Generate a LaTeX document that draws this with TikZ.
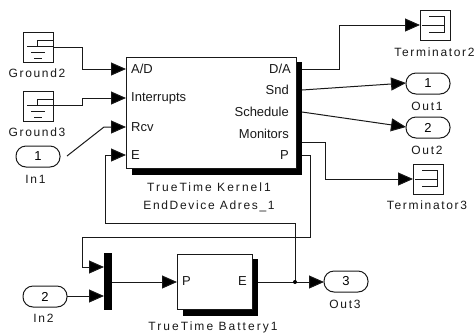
\documentclass[tikz,border=0pt]{standalone}
\usepackage{fontspec}
\setmainfont{Liberation Sans}
\usetikzlibrary{arrows.meta}
\newcommand{\lbl}{\fontsize{12}{14}\selectfont\addfontfeature{LetterSpace=14}}
\newcommand{\lblw}{\fontsize{12}{14}\selectfont\addfontfeature{LetterSpace=17}}
\newcommand{\prt}{\fontsize{13}{14}\selectfont}
\tikzset{
  wire/.style={line width=1pt,black!90},
  arw/.style={wire,-{Triangle[length=15pt,width=13pt,fill=black]}},
  blockbox/.style={draw=black!90,line width=1pt,fill=white,inner sep=0pt,outer sep=0pt,anchor=north west},
  pill/.style={blockbox,minimum width=44pt,minimum height=21pt,rounded corners=10pt,font=\prt},
  squarebox/.style={blockbox,minimum width=30pt,minimum height=30pt},
  shadowbox/.style={fill=black,draw=none,inner sep=0pt,outer sep=0pt,anchor=north west},
  captxt/.style={font=\lbl,inner sep=0pt,text=black!90},
  captw/.style={font=\lblw,inner sep=0pt,text=black!90},
  portl/.style={font=\prt,inner sep=0pt,anchor=west,text=black!90},
  portr/.style={font=\prt,inner sep=0pt,anchor=east,text=black!90},
  symline/.style={line width=0.9pt,black!90}
}
\begin{document}
\begin{tikzpicture}[x=1pt,y=-1pt]
\useasboundingbox (0,0) rectangle (476,333);
% shadows
\node[shadowbox,minimum width=170pt,minimum height=113pt] (kshadow) at (132,62) {};
\node[shadowbox,minimum width=75pt,minimum height=57pt] (bshadow) at (183,259) {};
% blocks
\node[blockbox,minimum width=170pt,minimum height=111pt] (kernel) at (126,57) {};
\node[blockbox,minimum width=75pt,minimum height=55pt] (batt) at (177,254) {};
\node[shadowbox,minimum width=8pt,minimum height=57pt] (mux) at (104,253) {};
\node[squarebox] (g2) at (23,32) {};
\node[squarebox] (g3) at (23,91) {};
\node[squarebox] (t2) at (420,10) {};
\node[squarebox] (t3) at (413,164) {};
\node[pill] (in1) at (16,146) {1};
\node[pill] (in2) at (23,286) {2};
\node[pill] (o1) at (406,73) {1};
\node[pill] (o2) at (406,117) {2};
\node[pill] (o3) at (324,271) {3};
% ground symbols
\foreach \b/\y in {g2/32,g3/91}{
  \draw[symline] (37,\y+14) -- (37,\y+8) -- (53,\y+8);
  \draw[symline] (27,\y+14) -- (53,\y+14);
  \draw[symline] (31,\y+20) -- (45,\y+20);
  \draw[symline] (34,\y+26) -- (42,\y+26);
}
% terminator symbols
\foreach \x/\y in {420/10,413/164}{
  \draw[symline] (\x+9,\y+6) -- (\x+24,\y+6) -- (\x+24,\y+22) -- (\x+9,\y+22);
  \draw[symline] (\x+2,\y+15) -- (\x+24,\y+15);
}
% port labels
\node[portl] (lad) at (131,69) {A/D};
\node[portl] (lint) at (131,98) {Interrupts};
\node[portl] (lrcv) at (131,127) {Rcv};
\node[portl] (le) at (131,155) {E};
\node[portr] (lda) at (291,69) {D/A};
\node[portr] (lsnd) at (289,90) {Snd};
\node[portr] (lsch) at (289,112) {Schedule};
\node[portr] (lmon) at (289,134) {Monitors};
\node[portr] (lp) at (289,155) {P};
\node[portl] (bp) at (182,281) {P};
\node[portr] (be) at (247,281) {E};
% captions
\node[captxt] (c1) at (37,73) {Ground2};
\node[captxt] (c2) at (37,132) {Ground3};
\node[captxt] (c3) at (35.5,179) {In1};
\node[captxt] (c4) at (43.5,318) {In2};
\node[captxt] (c5) at (434.5,52) {Terminator2};
\node[captxt] (c6) at (427,205) {Terminator3};
\node[captxt] (c7) at (427,106) {Out1};
\node[captxt] (c8) at (427,150) {Out2};
\node[captxt] (c9) at (345,304) {Out3};
\node[captw] (c10) at (209,187) {TrueTime Kernel1};
\node[captxt] (c11) at (209,206) {EndDevice Adres\_1};
\node[captw] (c12) at (213,327) {TrueTime Battery1};
% ports
\coordinate (kAD) at (126,69);
\coordinate (kInt) at (126,98);
\coordinate (kRcv) at (126,127);
\coordinate (kE) at (126,155);
\coordinate (kDA) at (302,69);
\coordinate (kSnd) at (302,90);
\coordinate (kSch) at (302,112);
\coordinate (kMon) at (302,142);
\coordinate (kP) at (302,155);
\coordinate (mA) at (104,267);
\coordinate (mB) at (104,296);
\coordinate (mO) at (112,282);
\coordinate (bP) at (177,282);
\coordinate (bE) at (258,282);
\coordinate (j) at (295,282);
\coordinate (g2o) at (53,47);
\coordinate (g3o) at (53,105);
\coordinate (t2i) at (420,25);
\coordinate (t3i) at (413,179);
\coordinate (o1i) at (406,83);
\coordinate (o2i) at (406,127);
\coordinate (o3i) at (324,282);
\coordinate (in1o) at (67,156);
\coordinate (in2o) at (67,296);
% connectors
\draw[arw] (g2o) -- (82,47) -- (82,69) -- (kAD);
\draw[arw] (g3o) -- (82,105) -- (82,98) -- (kInt);
\draw[arw] (in1o) -- (104,127) -- (kRcv);
\draw[arw] (j) -- (295,223) -- (105,223) -- (105,155) -- (kE);
\draw[arw] (kDA) -- (339,69) -- (339,25) -- (t2i);
\draw[arw] (kSnd) -- (o1i);
\draw[arw] (kSch) -- (o2i);
\draw[arw] (kMon) -- (325,142) -- (325,179) -- (t3i);
\draw[arw] (kP) -- (310,155) -- (310,237) -- (82,237) -- (82,267) -- (mA);
\draw[arw] (in2o) -- (mB);
\draw[arw] (mO) -- (bP);
\draw[arw] (bE) -- (o3i);
\fill[black] (j) circle (2pt);
\end{tikzpicture}
\end{document}
